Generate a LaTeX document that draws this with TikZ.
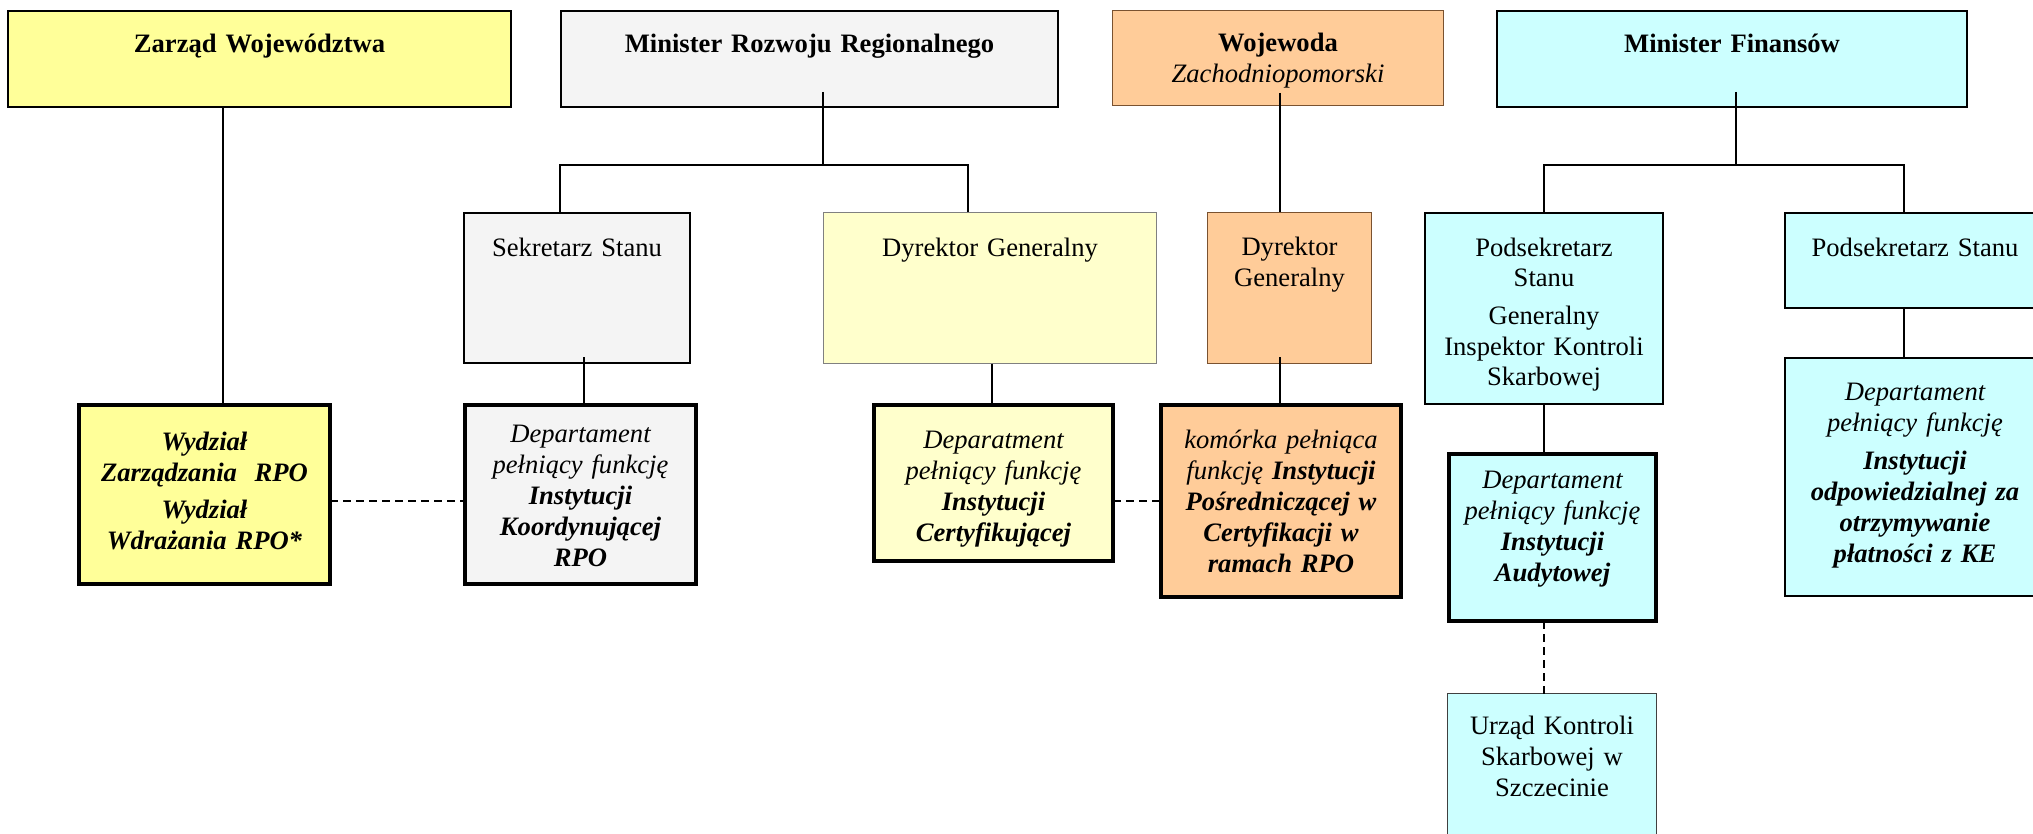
\documentclass[tikz,border=0pt]{standalone}
\usepackage{fontspec}
\setmainfont{Liberation Serif}
\definecolor{zarzad}{HTML}{FFFF99}
\definecolor{szary}{HTML}{F4F4F4}
\definecolor{jasnyzolty}{HTML}{FFFFCC}
\definecolor{pomarancz}{HTML}{FFCC99}
\definecolor{blekit}{HTML}{CCFFFF}
\definecolor{brazowy}{HTML}{7A5230}
\begin{document}
\begin{tikzpicture}[x=1pt, y=-1pt,
    font=\fontsize{26.6pt}{31pt}\selectfont,
    topbox/.style={draw, rectangle, inner sep=0pt, outer sep=0pt, align=center, line width=2pt},
    softbox/.style={topbox, line width=1.5pt},
    deptbox/.style={topbox, line width=4.5pt},
    link/.style={line width=2pt},
    dashlink/.style={line width=2pt, dash pattern=on 8pt off 5pt}]
  \useasboundingbox (0,0) rectangle (2033,834);
  \clip (0,0) rectangle (2033,834);
  % top row
  \node[topbox, fill=zarzad, minimum width=503pt, text width=480pt, text height=42pt, text depth=54pt]
    (zw) at (259.5,59) {\bfseries Zarząd Województwa};
  \node[topbox, fill=szary, minimum width=497pt, text width=480pt, text height=42pt, text depth=54pt]
    (mrr) at (809.5,59) {\bfseries Minister Rozwoju Regionalnego};
  \node[softbox, draw=brazowy, fill=pomarancz, minimum width=331pt, text width=320pt, text height=41.5pt, text depth=53.5pt]
    (woj) at (1278,58) {{\bfseries Wojewoda}\\ {\itshape Zachodniopomorski}};
  \node[topbox, fill=blekit, minimum width=470pt, text width=450pt, text height=42pt, text depth=54pt]
    (mf) at (1732,59) {\bfseries Minister Finansów};
  % second row
  \node[topbox, fill=szary, minimum width=226pt, text width=220pt, text height=44pt, text depth=106pt]
    (sek) at (577,288) {Sekretarz Stanu};
  \node[softbox, draw=gray, fill=jasnyzolty, minimum width=333pt, text width=320pt, text height=44.5pt, text depth=106.5pt]
    (dgy) at (990,288) {Dyrektor Generalny};
  \node[softbox, draw=brazowy, fill=pomarancz, minimum width=164pt, text width=158pt, text height=42.5pt, text depth=108.5pt]
    (dgo) at (1289.5,288) {Dyrektor\\ Generalny};
  \node[topbox, fill=blekit, minimum width=238pt, text width=232pt, text height=43pt, text depth=148pt]
    (psl) at (1544,308.5) {Podsekretarz\\ Stanu\\[6pt] Generalny\\ Inspektor Kontroli\\ Skarbowej};
  \node[topbox, fill=blekit, minimum width=260pt, text width=250pt, text height=43pt, text depth=52pt]
    (psr) at (1915,260.5) {Podsekretarz Stanu};
  % departments
  \node[deptbox, fill=zarzad, minimum width=251pt, text width=240pt, text height=45pt, text depth=134pt]
    (wyd) at (204.5,494.5) {\bfseries\itshape Wydział\\ Zarządzania\ \ RPO\\[6pt] Wydział\\ Wdrażania RPO*};
  \node[deptbox, fill=szary, minimum width=231pt, text width=222pt, text height=37pt, text depth=142pt]
    (koord) at (580.5,494.5) {{\itshape Departament\\ pełniący funkcję}\\ {\bfseries\itshape Instytucji\\ Koordynującej\\ RPO}};
  \node[deptbox, fill=jasnyzolty, minimum width=239pt, text width=230pt, text height=43pt, text depth=113pt]
    (cert) at (993.5,483) {{\itshape Deparatment\\ pełniący funkcję}\\ {\bfseries\itshape Instytucji\\ Certyfikującej}};
  \node[deptbox, fill=pomarancz, minimum width=240pt, text width=232pt, text height=43pt, text depth=149pt]
    (kom) at (1281,501) {\itshape komórka pełniąca\\ funkcję {\bfseries Instytucji\\ Pośredniczącej w\\ Certyfikacji w\\ ramach RPO}};
  \node[deptbox, fill=blekit, minimum width=207pt, text width=200pt, text height=34pt, text depth=133pt]
    (aud) at (1552.5,537.5) {{\itshape Departament\\ pełniący funkcję}\\ {\bfseries\itshape Instytucji\\ Audytowej}};
  \node[topbox, fill=blekit, minimum width=260pt, text width=250pt, text height=42pt, text depth=196pt]
    (dep) at (1915,477) {{\itshape Departament\\ pełniący funkcję}\\[7pt] {\bfseries\itshape Instytucji\\ odpowiedzialnej za\\ otrzymywanie\\ płatności z KE}};
  \node[softbox, draw=darkgray, fill=blekit, minimum width=209pt, text width=200pt, text height=40.5pt, text depth=116pt]
    (urz) at (1552,771.75) {Urząd Kontroli\\ Skarbowej w\\ Szczecinie};
  % connectors
  \coordinate (mrr-j) at (823,165);
  \coordinate (mf-j) at (1736,165);
  \begin{scope}[link]
    \draw ([xshift=18.5pt]wyd.north) -- ([xshift=18.5pt]wyd.north |- zw.south);
    \draw ([xshift=13.5pt,yshift=15pt]mrr.south) -- (mrr-j);
    \draw ([xshift=-17.5pt]sek.north) |- (mrr-j) -| ([xshift=-22pt]dgy.north);
    \draw ([xshift=2pt,yshift=12.5pt]woj.south) -- ([xshift=-9.5pt]dgo.north);
    \draw ([xshift=4pt,yshift=15pt]mf.south) -- (mf-j);
    \draw (psl.north) |- (mf-j) -| ([xshift=-11pt]psr.north);
    \draw ([xshift=7pt,yshift=6pt]sek.south) -- ([xshift=3.5pt]koord.north);
    \draw ([xshift=1.5pt]dgy.south) -- ([xshift=-2pt]cert.north);
    \draw ([xshift=-9.5pt,yshift=6.5pt]dgo.south) -- ([xshift=-1pt]kom.north);
    \draw (psl.south) -- ([xshift=-8.5pt]aud.north);
    \draw ([xshift=-11pt]psr.south) -- ([xshift=-11pt]dep.north);
  \end{scope}
  \begin{scope}[dashlink]
    \draw ([yshift=-6.5pt]wyd.east) -- ([yshift=-6.5pt]koord.west);
    \draw (cert.east |- kom.west) -- (kom.west);
    \draw ([xshift=-8.5pt]aud.south) -- ([xshift=-8pt]urz.north);
  \end{scope}
\end{tikzpicture}
\end{document}
